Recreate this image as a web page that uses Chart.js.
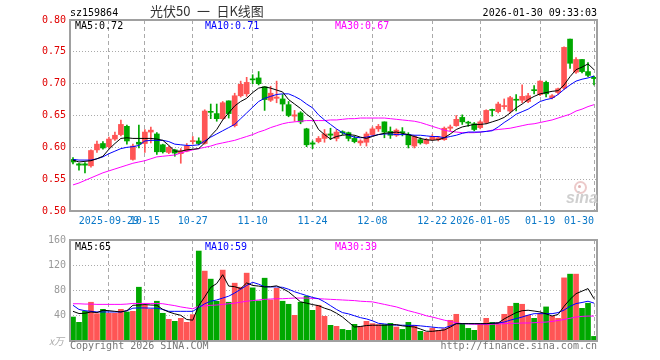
<!DOCTYPE html>
<html>
<head>
<meta charset="utf-8">
<script src="https://cdn.jsdelivr.net/npm/chart.js@4.4.1/dist/chart.umd.min.js"></script>
<style>
  html, body { margin: 0; padding: 0; background: #fff; }
  #wrap { position: relative; width: 660px; height: 360px; overflow: hidden;
          font-family: "DejaVu Sans Mono", monospace; font-size: 10px; }
  canvas { position: absolute; left: 0; top: 0; }
  .t { position: absolute; white-space: pre; line-height: 12px; }
</style>
</head>
<body>
<div id="wrap">
  <canvas id="kline" width="660" height="360"></canvas>
  <canvas id="vol" width="660" height="360"></canvas>

  <div class="t" style="left:70px;top:7px;color:#000">sz159864</div>
  <div class="t" style="left:150px;top:4px;line-height:14px;font-size:13px;font-family:'Noto Sans CJK SC';color:#333">光伏50&ensp;一&ensp;日K线图</div>
  <div class="t" style="right:63px;top:7px;color:#000">2026-01-30 09:33:03</div>

  <div class="t" style="left:75px;top:20px;color:#000">MA5:0.72</div>
  <div class="t" style="left:205px;top:20px;color:#0000ff">MA10:0.71</div>
  <div class="t" style="left:335px;top:20px;color:#ff00ff">MA30:0.67</div>

  <div class="t" style="left:75px;top:241px;color:#000">MA5:65</div>
  <div class="t" style="left:205px;top:241px;color:#0000ff">MA10:59</div>
  <div class="t" style="left:335px;top:241px;color:#ff00ff">MA30:39</div>

  <div class="t" style="left:49px;top:335px;color:#aaa;font-style:italic;font-family:'Noto Sans CJK SC'">x万</div>
  <div class="t" style="left:70px;top:340px;color:#777">Copyright 2026 SINA.COM</div>
  <div class="t" style="right:63px;top:340px;color:#777">http://finance.sina.com.cn</div>

  <div style="position:absolute;left:574px;top:181px;width:9px;height:9px;border:2px solid #eccaca;border-radius:50%"></div>
  <div style="position:absolute;left:578px;top:185px;width:3px;height:3px;background:#e0b0b0;border-radius:50%"></div>
  <div class="t" style="left:566px;top:189px;line-height:16px;font:italic bold 16px 'Liberation Sans';color:#cfcfcf">sina</div>
</div>

<script>
// trading days shown on the chart
var dates = [
  '2025-09-19','2025-09-22','2025-09-23','2025-09-24','2025-09-25','2025-09-26','2025-09-29','2025-09-30',
  '2025-10-09','2025-10-10','2025-10-13','2025-10-14','2025-10-15','2025-10-16','2025-10-17','2025-10-20',
  '2025-10-21','2025-10-22','2025-10-23','2025-10-24','2025-10-27','2025-10-28','2025-10-29','2025-10-30',
  '2025-10-31','2025-11-03','2025-11-04','2025-11-05','2025-11-06','2025-11-07','2025-11-10','2025-11-11',
  '2025-11-12','2025-11-13','2025-11-14','2025-11-17','2025-11-18','2025-11-19','2025-11-20','2025-11-21',
  '2025-11-24','2025-11-25','2025-11-26','2025-11-27','2025-11-28','2025-12-01','2025-12-02','2025-12-03',
  '2025-12-04','2025-12-05','2025-12-08','2025-12-09','2025-12-10','2025-12-11','2025-12-12','2025-12-15',
  '2025-12-16','2025-12-17','2025-12-18','2025-12-19','2025-12-22','2025-12-23','2025-12-24','2025-12-25',
  '2025-12-26','2025-12-29','2025-12-30','2025-12-31','2026-01-05','2026-01-06','2026-01-07','2026-01-08',
  '2026-01-09','2026-01-12','2026-01-13','2026-01-14','2026-01-15','2026-01-16','2026-01-19','2026-01-20',
  '2026-01-21','2026-01-22','2026-01-23','2026-01-26','2026-01-27','2026-01-28','2026-01-29','2026-01-30'
];

var tickDates  = ['2025-09-29','2025-10-15','2025-10-27','2025-11-10','2025-11-24','2025-12-08','2025-12-22','2026-01-05','2026-01-19','2026-01-30'];
var tickLabels = ['2025-09-29','10-15','10-27','11-10','11-24','12-08','12-22','2026-01-05','01-19','01-30'];

var open = [
  0.581,0.574,0.574,0.571,0.596,0.606,0.601,0.613,0.620,0.633,
  0.581,0.608,0.606,0.624,0.621,0.604,0.592,0.596,0.590,0.594,
  0.609,0.610,0.606,0.656,0.653,0.645,0.673,0.634,0.681,0.684,
  0.707,0.709,0.695,0.674,0.677,0.676,0.667,0.649,0.654,0.629,
  0.607,0.609,0.614,0.621,0.614,0.624,0.623,0.614,0.607,0.608,
  0.620,0.629,0.640,0.625,0.619,0.624,0.620,0.602,0.612,0.606,
  0.612,0.612,0.612,0.630,0.634,0.647,0.639,0.637,0.631,0.639,
  0.659,0.656,0.664,0.657,0.675,0.674,0.672,0.690,0.683,0.702,
  0.678,0.686,0.693,0.770,0.718,0.738,0.719,0.710
];
var high = [
  0.584,0.575,0.576,0.596,0.610,0.609,0.616,0.624,0.643,0.635,
  0.605,0.635,0.628,0.632,0.623,0.605,0.602,0.597,0.598,0.606,
  0.617,0.615,0.659,0.668,0.668,0.672,0.673,0.685,0.704,0.710,
  0.714,0.719,0.695,0.696,0.704,0.683,0.672,0.658,0.656,0.630,
  0.610,0.617,0.628,0.630,0.628,0.626,0.624,0.618,0.612,0.624,
  0.632,0.636,0.640,0.632,0.629,0.631,0.623,0.619,0.615,0.614,
  0.620,0.617,0.632,0.635,0.650,0.651,0.641,0.639,0.642,0.659,
  0.660,0.671,0.676,0.680,0.683,0.698,0.685,0.697,0.705,0.704,
  0.683,0.693,0.758,0.770,0.741,0.738,0.733,0.712
];
var low = [
  0.574,0.564,0.560,0.569,0.592,0.597,0.599,0.611,0.618,0.605,
  0.580,0.599,0.592,0.607,0.589,0.591,0.590,0.586,0.575,0.593,
  0.605,0.604,0.605,0.645,0.641,0.644,0.646,0.632,0.679,0.680,
  0.700,0.698,0.658,0.672,0.670,0.657,0.648,0.641,0.637,0.601,
  0.598,0.607,0.608,0.612,0.610,0.620,0.610,0.607,0.603,0.602,
  0.618,0.625,0.615,0.614,0.617,0.618,0.599,0.599,0.605,0.605,
  0.611,0.610,0.611,0.626,0.633,0.636,0.633,0.626,0.629,0.637,
  0.649,0.654,0.660,0.654,0.657,0.670,0.670,0.684,0.681,0.679,
  0.676,0.683,0.691,0.724,0.716,0.717,0.711,0.698
];
var close = [
  0.577,0.572,0.572,0.595,0.605,0.599,0.613,0.619,0.636,0.610,
  0.602,0.605,0.624,0.627,0.593,0.593,0.600,0.591,0.594,0.602,
  0.610,0.606,0.657,0.655,0.645,0.670,0.653,0.681,0.699,0.702,
  0.706,0.700,0.675,0.685,0.679,0.668,0.650,0.651,0.640,0.604,
  0.605,0.614,0.621,0.619,0.624,0.623,0.614,0.609,0.610,0.621,
  0.629,0.633,0.624,0.619,0.627,0.623,0.604,0.617,0.607,0.612,
  0.617,0.615,0.630,0.632,0.644,0.640,0.638,0.628,0.640,0.658,
  0.658,0.668,0.665,0.678,0.674,0.680,0.681,0.689,0.704,0.684,
  0.681,0.692,0.757,0.732,0.738,0.719,0.713,0.708
];

var ma5 = [
  0.580,0.577,0.578,0.579,0.582,0.586,0.597,0.606,0.614,0.615,
  0.614,0.614,0.614,0.614,0.613,0.611,0.603,0.594,0.594,0.596,
  0.597,0.598,0.607,0.618,0.628,0.643,0.654,0.665,0.672,0.677,
  0.686,0.693,0.695,0.693,0.690,0.687,0.675,0.668,0.661,0.652,
  0.645,0.628,0.620,0.613,0.617,0.619,0.620,0.619,0.616,0.614,
  0.617,0.620,0.622,0.623,0.624,0.622,0.620,0.617,0.614,0.612,
  0.611,0.612,0.615,0.621,0.628,0.632,0.634,0.636,0.636,0.637,
  0.640,0.643,0.647,0.654,0.662,0.668,0.675,0.680,0.684,0.686,
  0.688,0.689,0.698,0.711,0.722,0.726,0.731,0.722
];
var ma10 = [
  0.581,0.580,0.580,0.580,0.582,0.585,0.590,0.594,0.598,0.600,
  0.601,0.603,0.610,0.611,0.611,0.611,0.609,0.605,0.604,0.603,
  0.603,0.604,0.610,0.616,0.621,0.626,0.631,0.636,0.645,0.654,
  0.663,0.672,0.677,0.680,0.683,0.684,0.684,0.680,0.675,0.668,
  0.662,0.651,0.643,0.636,0.629,0.623,0.619,0.616,0.615,0.616,
  0.618,0.620,0.621,0.621,0.620,0.620,0.620,0.619,0.619,0.618,
  0.617,0.617,0.615,0.617,0.619,0.622,0.624,0.624,0.624,0.625,
  0.626,0.632,0.639,0.645,0.652,0.656,0.660,0.666,0.672,0.675,
  0.677,0.683,0.691,0.698,0.704,0.707,0.709,0.712
];
var ma30 = [
  0.541,0.544,0.548,0.552,0.556,0.560,0.563,0.566,0.569,0.572,
  0.575,0.577,0.579,0.582,0.585,0.586,0.587,0.588,0.591,0.594,
  0.596,0.598,0.600,0.602,0.605,0.607,0.609,0.611,0.614,0.617,
  0.620,0.624,0.627,0.631,0.634,0.637,0.639,0.640,0.641,0.642,
  0.642,0.642,0.642,0.643,0.643,0.644,0.645,0.645,0.646,0.646,
  0.646,0.646,0.646,0.645,0.644,0.643,0.642,0.641,0.639,0.636,
  0.633,0.630,0.627,0.625,0.624,0.623,0.623,0.623,0.624,0.625,
  0.627,0.628,0.629,0.630,0.632,0.634,0.636,0.637,0.639,0.641,
  0.643,0.646,0.649,0.652,0.657,0.660,0.664,0.667
];

// volume, unit 万
var volume = [
  38,29.6,47,61.4,43.3,50.2,43.9,43.9,50.2,46,
  47,85.2,56.6,50.2,63,43.9,34.3,31.2,35.9,29.6,
  41.8,142.5,110.7,98,63,112.3,61.4,91.6,85.2,107.5,
  84.2,63.5,99.5,65.1,83.6,63,58.2,40.7,61.4,70.9,
  48.6,56.6,39.1,24.8,23.2,18.4,16.9,26.4,23.2,31.2,
  27.5,25.9,25.9,28,22.2,18.4,29.6,24.8,15.3,13.7,
  20,16.9,19.5,32.8,42.3,28,20,16.9,26.4,35.9,
  29.6,29.6,42.3,55,59.8,58.2,40.7,35.9,43.9,54,
  39.1,35.9,100,105.9,105.9,51.8,59.8,7.3
];
var volMa5 = [
  47,43.5,44,46,45,48.7,48,47,46,48,
  56.6,57,57.7,57,56.6,50,46,43,40.7,34,
  33,56,70,85,91,105,87,86,83,92,
  88,87,85.7,86,87.4,83,77.8,70,62,60,
  57.7,56,52,49,44,38,30,22.2,23,24.5,
  25,25,25,25.5,26,24,23,22.2,19,15.5,
  15.3,16.5,17.5,22,27.5,27.5,27.5,27.5,27.5,27.5,
  28,28.5,35,40,45,48,48.7,47.5,46,43,
  39.6,42,55,66,75,79,83,67
];
var volMa10 = [
  56.6,50,48,47,46,46,46,46,46,48,
  52,52.4,52.4,52,52,50,47,47,47,47,
  47,53,59,63,65,68,71,76,82,88,
  93,90,86,85.7,85.7,85,82,78,75,72,
  69,67,62,56,50,45,43,40,37,35,
  32,28,27,26,25,25,24.8,24.8,24,23,
  22,21,20.6,24,27.5,27.5,27.5,27.5,27.5,27.5,
  28,28.5,30,33,35.4,38,41,43.3,43.3,43.3,
  43.3,45,49,55,59.3,61,63,60
];
var volMa30 = [
  59,59,58.5,58.5,58,58,58,58,58,58.5,
  59.5,59.5,59.5,59.5,59.5,59,57.5,56,54,52.5,
  51,55,55.5,56.5,57,58,59,60,61.5,63,
  64,65,66,66.5,67,67,67.5,68,68,68,
  67.5,67,66.5,66,65.5,65,64.5,64,63,62.5,
  62,60,58,56,54,51,48,45.5,43,40,
  38,35.5,33,31,29,27.5,27,26.5,26.5,26.4,
  26.5,27,27.5,28,28,28.5,28.5,29,29.5,30,
  31,32.5,34,36,38,39,39.5,39.5
];

var UP = '#ff5555';
var DOWN = '#00a800';
var barColors = close.map(function (c, i) { return c >= open[i] ? UP : DOWN; });

Chart.defaults.font.family = 'DejaVu Sans Mono';
Chart.defaults.font.size = 10;

// only keep the dated ticks (one dashed grid line each)
function keepTicks(scale) {
  scale.ticks = scale.ticks.filter(function (t) { return tickDates.indexOf(dates[t.value]) >= 0; });
}

var frame = {
  id: 'frame',
  afterDraw: function (chart) {
    var a = chart.chartArea, ctx = chart.ctx;
    ctx.save();
    ctx.strokeStyle = '#a0a0a0';
    ctx.lineWidth = 2;
    ctx.strokeRect(a.left, a.top, a.right - a.left, a.bottom - a.top);
    ctx.restore();
  }
};

function maLine(values, color) {
  return {
    type: 'line', data: values, borderColor: color, borderWidth: 1,
    pointRadius: 0, tension: 0, order: 0
  };
}

function xAxis(showLabels, height) {
  return {
    type: 'category',
    offset: true,
    afterBuildTicks: keepTicks,
    afterFit: function (s) { s.height = height; },
    grid: { color: '#aaa', drawTicks: false, offset: false },
    border: { display: false, dash: [4, 3] },
    ticks: {
      display: showLabels,
      autoSkip: false, maxRotation: 0, minRotation: 0,
      padding: 4, color: '#0a78c8',
      callback: function (v) {
        var k = tickDates.indexOf(dates[v]);
        // the last label is pulled inside the frame
        return k === tickDates.length - 1 ? tickLabels[k] + '     ' : tickLabels[k];
      }
    }
  };
}

new Chart(document.getElementById('kline'), {
  type: 'bar',
  data: {
    labels: dates,
    datasets: [
      maLine(ma5, '#000'),
      maLine(ma10, '#0000ff'),
      maLine(ma30, '#ff00ff'),
      {
        data: dates.map(function (d, i) { return [low[i], high[i]]; }),
        backgroundColor: barColors, barThickness: 1, grouped: false, order: 2
      },
      {
        data: dates.map(function (d, i) { return [open[i], close[i]]; }),
        backgroundColor: barColors, barThickness: 5, minBarLength: 1, grouped: false, order: 1
      }
    ]
  },
  options: {
    responsive: false,
    animation: false,
    layout: { padding: { left: 0, right: 63, top: 20, bottom: 125 } },
    plugins: { legend: { display: false }, tooltip: { enabled: false } },
    scales: {
      x: xAxis(true, 24),
      y: {
        min: 0.5, max: 0.8,
        afterFit: function (s) { s.width = 70; },
        grid: { color: '#aaa', drawTicks: false },
        border: { display: false, dash: [1, 2] },
        ticks: {
          stepSize: 0.05, padding: 4, color: '#e00000',
          callback: function (v) { return v.toFixed(2); }
        }
      }
    }
  },
  plugins: [frame]
});

new Chart(document.getElementById('vol'), {
  type: 'bar',
  data: {
    labels: dates,
    datasets: [
      maLine(volMa5, '#000'),
      maLine(volMa10, '#0000ff'),
      maLine(volMa30, '#ff00ff'),
      { data: volume, backgroundColor: barColors, barThickness: 5, order: 1 }
    ]
  },
  options: {
    responsive: false,
    animation: false,
    layout: { padding: { left: 0, right: 63, top: 240, bottom: 19 } },
    plugins: { legend: { display: false }, tooltip: { enabled: false } },
    scales: {
      x: xAxis(false, 0),
      y: {
        min: 0, max: 160,
        afterFit: function (s) { s.width = 70; },
        grid: { color: '#aaa', drawTicks: false },
        border: { display: false, dash: [1, 2] },
        ticks: {
          stepSize: 40, padding: 4, color: '#999',
          callback: function (v) { return v === 0 ? '' : v; }
        }
      }
    }
  },
  plugins: [frame]
});
</script>
</body>
</html>
